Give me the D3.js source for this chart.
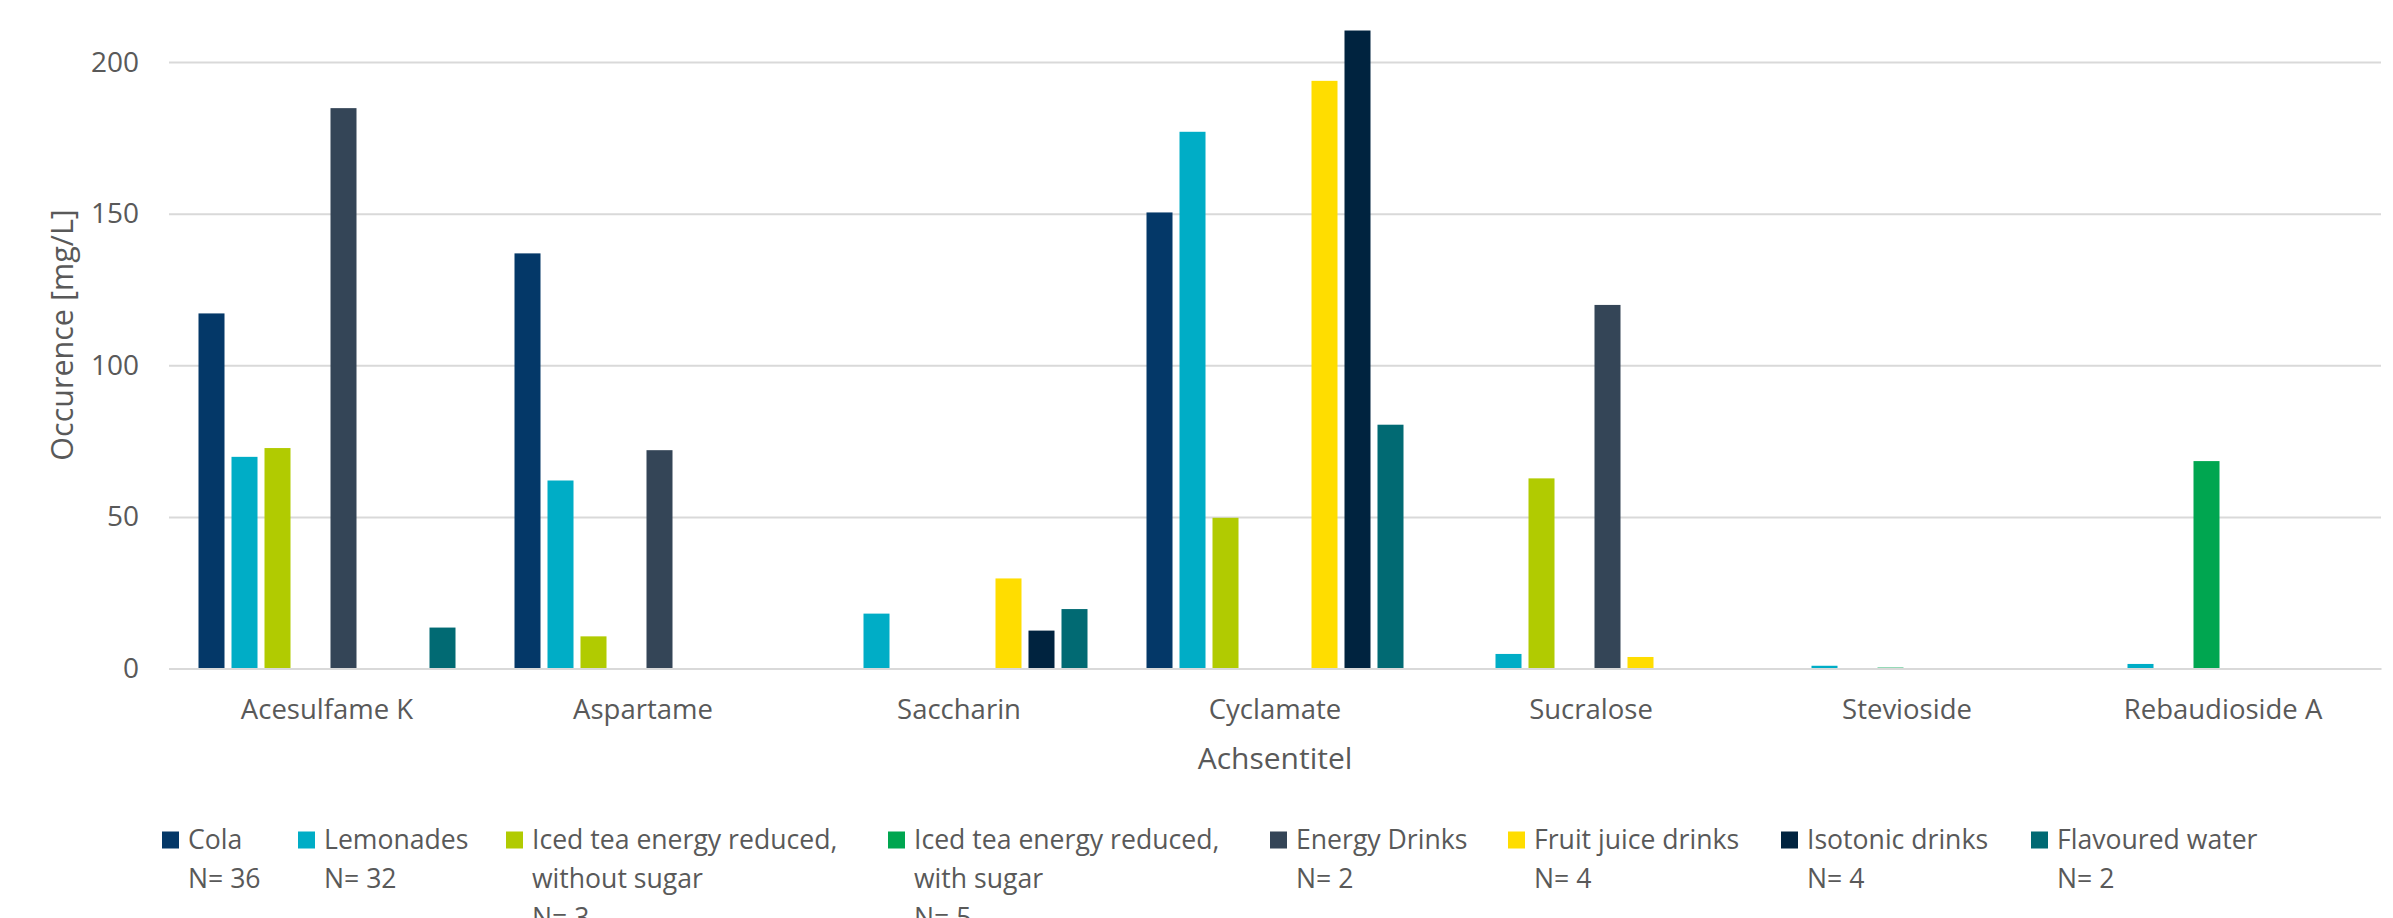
<!DOCTYPE html>
<html>
<head>
<meta charset="utf-8">
<script src="https://cdn.jsdelivr.net/npm/d3@7/dist/d3.min.js"></script>
<style>
  html, body { margin: 0; padding: 0; background: #fff; overflow: hidden; }
  svg { display: block; font-family: "Open Sans", "Noto Sans", sans-serif; }
</style>
</head>
<body>
<svg id="chart" width="2393" height="918"></svg>
<script>
// Sweetener categories along the x axis
const categories = ["Acesulfame K", "Aspartame", "Saccharin", "Cyclamate", "Sucralose", "Stevioside", "Rebaudioside A"];

// Mean concentrations (mg/L) per beverage group; null = not detected
const cola           = [117.1, 136.9, null, 150.4, null, null, null];
const lemonades      = [69.8, 62.0, 18.1, 177.0, 4.8, 0.9, 1.5];
const icedTeaNoSugar = [72.7, 10.6, null, 49.7, 62.7, null, null];
const icedTeaSugar   = [null, null, null, null, null, 0.3, 68.4];
const energyDrinks   = [184.8, 72.0, null, null, 119.9, null, null];
const fruitJuice     = [null, null, 29.7, 193.8, 3.8, null, null];
const isotonic       = [null, null, 12.5, 210.4, null, null, null];
const flavouredWater = [13.5, null, 19.6, 80.4, null, null, null];

// Legend labels (one entry per line) and sample sizes
const seriesLabels = [
  ["Cola"],
  ["Lemonades"],
  ["Iced tea energy reduced,", "without sugar"],
  ["Iced tea energy reduced,", "with sugar"],
  ["Energy Drinks"],
  ["Fruit juice drinks"],
  ["Isotonic drinks"],
  ["Flavoured water"]
];
const sampleSizes = [36, 32, 3, 5, 2, 4, 4, 2];

const yTicks = [0, 50, 100, 150, 200];
const yMax = 220;

// Styling
const colors = ["#043868", "#00adc6", "#b1cb01", "#00a650", "#344557", "#ffdd00", "#00233f", "#016a73"];
const textColor = "#595959";
const gridColor = "#d9d9d9";

const seriesValues = [cola, lemonades, icedTeaNoSugar, icedTeaSugar, energyDrinks, fruitJuice, isotonic, flavouredWater];
const seriesIdx = d3.range(seriesValues.length);

const svg = d3.select("#chart");

const plot = { left: 169, right: 2381, top: 1.4, bottom: 668.5 };

const x0 = d3.scaleBand().domain(categories).range([plot.left, plot.right]).padding(0);
const x1 = d3.scaleBand().domain(seriesIdx)
  .range([0, x0.bandwidth()])
  .paddingInner(0.212)
  .paddingOuter(0.894);
const y = d3.scaleLinear().domain([0, yMax]).range([plot.bottom, plot.top]);

// Horizontal gridlines + y tick labels
const yAxis = svg.append("g")
  .attr("transform", `translate(${plot.left},0)`)
  .call(d3.axisLeft(y).tickValues(yTicks).tickSize(-(plot.right - plot.left)).tickPadding(30));
yAxis.select(".domain").remove();
yAxis.selectAll(".tick line").attr("stroke", gridColor).attr("stroke-width", 2);
yAxis.selectAll(".tick text")
  .attr("fill", textColor)
  .style("font-size", "28px")
  .style("font-family", "'Open Sans', sans-serif");

// Bars
const groups = svg.append("g").selectAll("g")
  .data(categories)
  .join("g")
  .attr("transform", d => `translate(${x0(d)},0)`);

groups.selectAll("rect")
  .data((c, ci) => seriesIdx
    .map(si => ({ si, v: seriesValues[si][ci] }))
    .filter(d => d.v != null))
  .join("rect")
  .attr("x", d => x1(d.si))
  .attr("width", x1.bandwidth())
  .attr("y", d => y(d.v))
  .attr("height", d => y(0) - y(d.v))
  .attr("fill", d => colors[d.si]);

// Category axis
const xAxis = svg.append("g")
  .attr("transform", `translate(0,${plot.bottom})`)
  .call(d3.axisBottom(x0).tickSize(0));
xAxis.select(".domain").attr("stroke", gridColor).attr("stroke-width", 2);
xAxis.selectAll(".tick text")
  .attr("fill", textColor)
  .attr("y", 50.5)
  .attr("dy", 0)
  .style("font-size", "27.5px")
  .style("font-family", "'Open Sans', sans-serif");

// Axis titles
svg.append("text")
  .attr("x", (plot.left + plot.right) / 2)
  .attr("y", 769)
  .attr("text-anchor", "middle")
  .attr("fill", textColor)
  .style("font-size", "30px")
  .text("Achsentitel");

svg.append("text")
  .attr("transform", `translate(73,${(plot.top + plot.bottom) / 2}) rotate(-90)`)
  .attr("text-anchor", "middle")
  .attr("fill", textColor)
  .style("font-size", "30.5px")
  .text("Occurence [mg/L]");

// Legend
const legendLeft = [162, 298, 506, 888, 1270, 1508, 1781, 2031];
const legendBaseline = 849;
const legendLineHeight = 39;

const legend = svg.append("g").selectAll("g")
  .data(seriesIdx)
  .join("g")
  .attr("transform", i => `translate(${legendLeft[i]},0)`);

legend.append("rect")
  .attr("x", 0)
  .attr("y", legendBaseline - 17.5)
  .attr("width", 17)
  .attr("height", 17)
  .attr("fill", i => colors[i]);

legend.append("text")
  .attr("fill", textColor)
  .style("font-size", "26.6px")
  .selectAll("tspan")
  .data(i => [...seriesLabels[i], `N= ${sampleSizes[i]}`])
  .join("tspan")
  .attr("x", 26)
  .attr("y", (d, k) => legendBaseline + k * legendLineHeight)
  .text(d => d);
</script>
</body>
</html>
